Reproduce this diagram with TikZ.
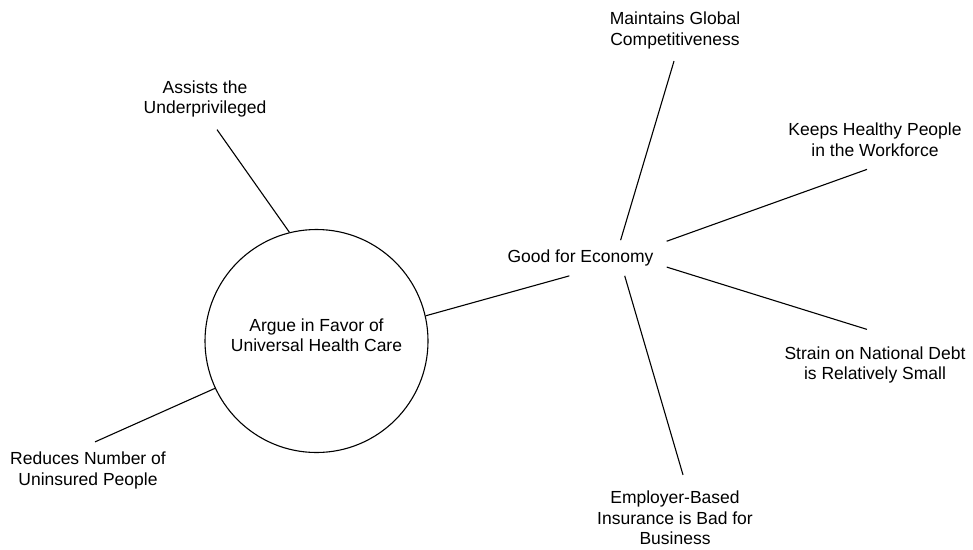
\documentclass[tikz,border=0pt]{standalone}
\usepackage{fontspec}
\setmainfont{Liberation Sans}
\usetikzlibrary{positioning}
\tikzstyle{hub}=[circle,draw,line width=1.1pt,minimum size=223pt,inner sep=0pt]
\tikzstyle{leaf}=[align=center,inner sep=0pt,font={\fontsize{17.5}{20.5}\selectfont}]
\tikzstyle{econbox}=[leaf,inner xsep=13pt,inner ysep=9.5pt]
\tikzstyle{undirectededge} = [draw,line width=1.1pt]

\begin{document}
\begin{tikzpicture}[x=1pt,y=-1pt]

  \useasboundingbox (0,0) rectangle (973,549);

  \node[hub,label={[leaf,yshift=6pt]center:{Argue in Favor of\\Universal Health Care}}] (hub) at (316.5,341) {};
  \node[econbox] (econ) at (580.5,258) {Good for Economy};

   \foreach \x/\y/\name/\label in {205/99/assist/{Assists the\\Underprivileged}, 88/470.5/reduce/{Reduces Number of\\Uninsured People}, 675/30.5/maintain/{Maintains Global\\Competitiveness}, 875/139.5/keeps/{Keeps Healthy People\\in the Workforce}, 875/365/strain/{Strain on National Debt\\is Relatively Small}, 675/518/employer/{Employer-Based\\Insurance is Bad for\\Business}}
          \node[leaf] (\name) at (\x,\y) {\label};

  \foreach \source/\dest/\dx/\dy in {hub.104/assist.south/12/-12, hub.205/reduce.north/7/10, hub.13/econ.238/0/0, econ.24/maintain.south/-1/-12, econ.11/keeps.south/-8/-13, econ.-6/strain.north/-8/17, econ.-22/employer.north/8/16}
         \path[undirectededge] (\source) -- ([xshift=\dx pt,yshift=\dy pt]\dest);

\end{tikzpicture}
\end{document}
